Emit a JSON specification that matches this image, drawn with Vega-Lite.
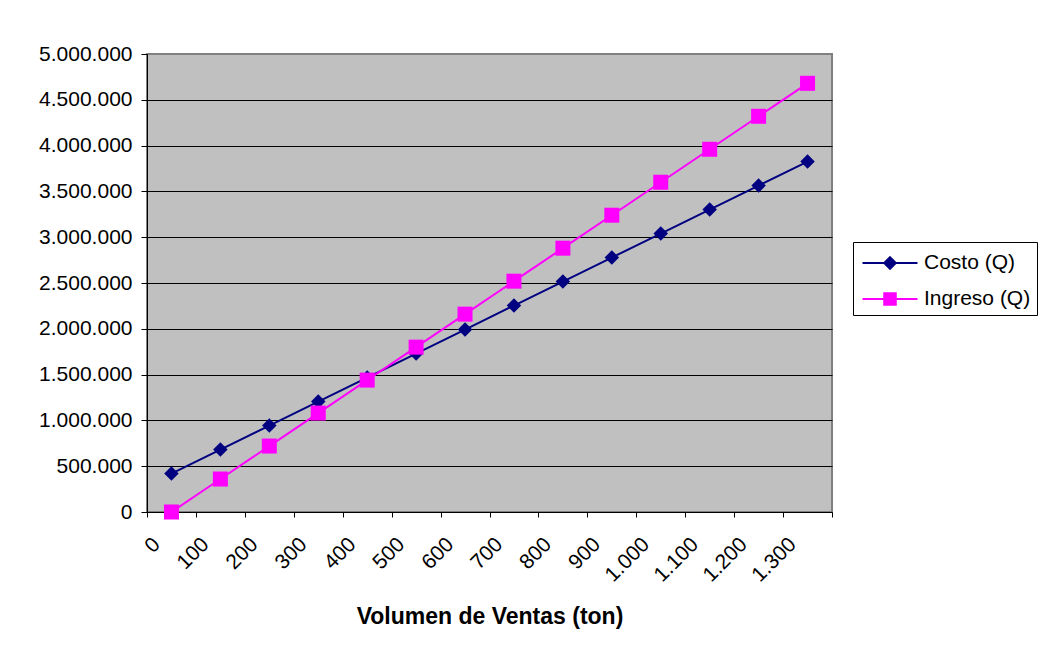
{
  "$schema": "https://vega.github.io/schema/vega-lite/v6.json",
  "width": 685,
  "height": 458,
  "autosize": {"type": "none"},
  "padding": {"left": 147, "top": 54, "right": 207, "bottom": 143},
  "background": "white",
  "data": {
    "values": [
      {"volumen": 0, "serie": "Costo (Q)", "valor": 420000},
      {"volumen": 100, "serie": "Costo (Q)", "valor": 682000},
      {"volumen": 200, "serie": "Costo (Q)", "valor": 944000},
      {"volumen": 300, "serie": "Costo (Q)", "valor": 1206000},
      {"volumen": 400, "serie": "Costo (Q)", "valor": 1468000},
      {"volumen": 500, "serie": "Costo (Q)", "valor": 1730000},
      {"volumen": 600, "serie": "Costo (Q)", "valor": 1992000},
      {"volumen": 700, "serie": "Costo (Q)", "valor": 2254000},
      {"volumen": 800, "serie": "Costo (Q)", "valor": 2516000},
      {"volumen": 900, "serie": "Costo (Q)", "valor": 2778000},
      {"volumen": 1000, "serie": "Costo (Q)", "valor": 3040000},
      {"volumen": 1100, "serie": "Costo (Q)", "valor": 3302000},
      {"volumen": 1200, "serie": "Costo (Q)", "valor": 3564000},
      {"volumen": 1300, "serie": "Costo (Q)", "valor": 3826000},
      {"volumen": 0, "serie": "Ingreso (Q)", "valor": 0},
      {"volumen": 100, "serie": "Ingreso (Q)", "valor": 360000},
      {"volumen": 200, "serie": "Ingreso (Q)", "valor": 720000},
      {"volumen": 300, "serie": "Ingreso (Q)", "valor": 1080000},
      {"volumen": 400, "serie": "Ingreso (Q)", "valor": 1440000},
      {"volumen": 500, "serie": "Ingreso (Q)", "valor": 1800000},
      {"volumen": 600, "serie": "Ingreso (Q)", "valor": 2160000},
      {"volumen": 700, "serie": "Ingreso (Q)", "valor": 2520000},
      {"volumen": 800, "serie": "Ingreso (Q)", "valor": 2880000},
      {"volumen": 900, "serie": "Ingreso (Q)", "valor": 3240000},
      {"volumen": 1000, "serie": "Ingreso (Q)", "valor": 3600000},
      {"volumen": 1100, "serie": "Ingreso (Q)", "valor": 3960000},
      {"volumen": 1200, "serie": "Ingreso (Q)", "valor": 4320000},
      {"volumen": 1300, "serie": "Ingreso (Q)", "valor": 4680000}
    ]
  },
  "encoding": {
    "x": {
      "field": "volumen",
      "type": "ordinal",
      "bandPosition": 0.5,
      "scale": {"type": "band", "paddingInner": 0, "paddingOuter": 0},
      "axis": {
        "title": "Volumen de Ventas (ton)",
        "titleFont": "Liberation Sans",
        "titleFontSize": 23,
        "titleFontWeight": "bold",
        "titleColor": "#000000",
        "titleY": 111,
        "titleBaseline": "alphabetic",
        "format": ",d",
        "formatType": "number",
        "labelAngle": -45,
        "labelAlign": "right",
        "labelBaseline": "middle",
        "labelOffset": -15,
        "labelPadding": 24,
        "labelOverlap": false,
        "labelFont": "Liberation Sans",
        "labelFontSize": 21,
        "labelColor": "#000000",
        "tickBand": "extent",
        "tickSize": 5,
        "tickColor": "#000000",
        "domainColor": "#000000",
        "grid": false
      }
    },
    "y": {
      "field": "valor",
      "type": "quantitative",
      "scale": {"domain": [0, 5000000], "nice": false},
      "axis": {
        "title": null,
        "values": [0, 500000, 1000000, 1500000, 2000000, 2500000, 3000000, 3500000, 4000000, 4500000, 5000000],
        "format": ",d",
        "grid": true,
        "gridColor": "#000000",
        "gridWidth": 1,
        "gridOpacity": {"condition": {"test": "datum.value >= 5000000", "value": 0}, "value": 1},
        "domainColor": "#000000",
        "tickColor": "#000000",
        "tickSize": 6,
        "labelPadding": 9,
        "labelFont": "Liberation Sans",
        "labelFontSize": 21,
        "labelColor": "#000000"
      }
    },
    "color": {
      "field": "serie",
      "type": "nominal",
      "scale": {"domain": ["Costo (Q)", "Ingreso (Q)"], "range": ["#000080", "#FF00FF"]},
      "legend": {
        "title": null,
        "orient": "none",
        "legendX": 706,
        "legendY": 188,
        "padding": 6,
        "strokeColor": "#000000",
        "fillColor": "#FFFFFF",
        "labelFont": "Liberation Sans",
        "labelFontSize": 21,
        "labelColor": "#000000",
        "symbolSize": 756,
        "symbolOffset": 16,
        "labelOffset": 19,
        "rowPadding": 11,
        "symbolStrokeWidth": 2,
        "encode": {
          "symbols": {
            "update": {
              "shape": {"signal": "datum.value === 'Costo (Q)' ? 'M-2,0H2M0,-0.42L0.42,0L0,0.42L-0.42,0Z' : 'M-2,0H2M-0.42,-0.42H0.42V0.42H-0.42Z'"},
              "size": {"value": 756},
              "strokeWidth": {"value": 2},
              "fill": {"signal": "datum.value === 'Costo (Q)' ? '#000080' : '#FF00FF'"},
              "stroke": {"signal": "datum.value === 'Costo (Q)' ? '#000080' : '#FF00FF'"},
              "opacity": {"value": 1},
              "fillOpacity": {"value": 1},
              "strokeOpacity": {"value": 1}
            }
          }
        }
      }
    }
  },
  "layer": [
    {"mark": {"type": "line", "strokeWidth": 2}},
    {
      "transform": [{"filter": {"field": "serie", "equal": "Costo (Q)"}}],
      "mark": {"type": "point", "shape": "diamond", "filled": true, "opacity": 1, "size": 210, "strokeWidth": 0}
    },
    {
      "transform": [{"filter": {"field": "serie", "equal": "Ingreso (Q)"}}],
      "mark": {"type": "point", "shape": "square", "filled": true, "opacity": 1, "size": 225, "strokeWidth": 0}
    }
  ],
  "config": {
    "font": "Liberation Sans",
    "locale": {"number": {"decimal": ",", "thousands": ".", "grouping": [3], "currency": ["$", ""]}},
    "view": {"fill": "#C0C0C0", "stroke": "#808080", "strokeWidth": 2}
  }
}
